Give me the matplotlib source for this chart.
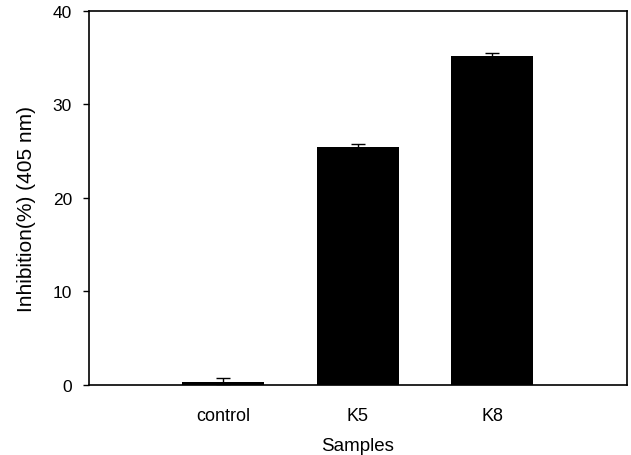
import matplotlib
matplotlib.use('Agg')
import matplotlib.pyplot as plt

samples = ['control', 'K5', 'K8']
inhibition = [0.3, 25.4, 35.2]
errors = [0.45, 0.35, 0.3]

plt.rcParams['font.family'] = ['Liberation Sans', 'DejaVu Sans']

fig = plt.figure(figsize=(6.31, 4.56), dpi=100)
ax = fig.add_axes([0.141, 0.1535, 0.852, 0.821])

pos = [1, 2, 3]
ax.bar(pos, inhibition, width=0.61, color='black',
       yerr=errors, error_kw=dict(ecolor='black', elinewidth=1, capsize=5, capthick=1))

ax.set_xlim(0, 4)
ax.set_ylim(0, 40)
ax.set_yticks([0, 10, 20, 30, 40])
ax.set_xticks(pos)
ax.set_xticklabels(samples)
ax.tick_params(axis='x', length=0, pad=16, labelsize=13)
ax.tick_params(axis='y', length=4.3, width=1, labelsize=12.5, pad=8)

for s in ax.spines.values():
    s.set_linewidth(1.2)

ax.set_xlabel('Samples', fontsize=13.5, labelpad=9)
ax.set_ylabel('Inhibition(%) (405 nm)', fontsize=15)
ax.yaxis.set_label_coords(-0.099, 0.473)

fig.savefig('out.png', dpi=100)
